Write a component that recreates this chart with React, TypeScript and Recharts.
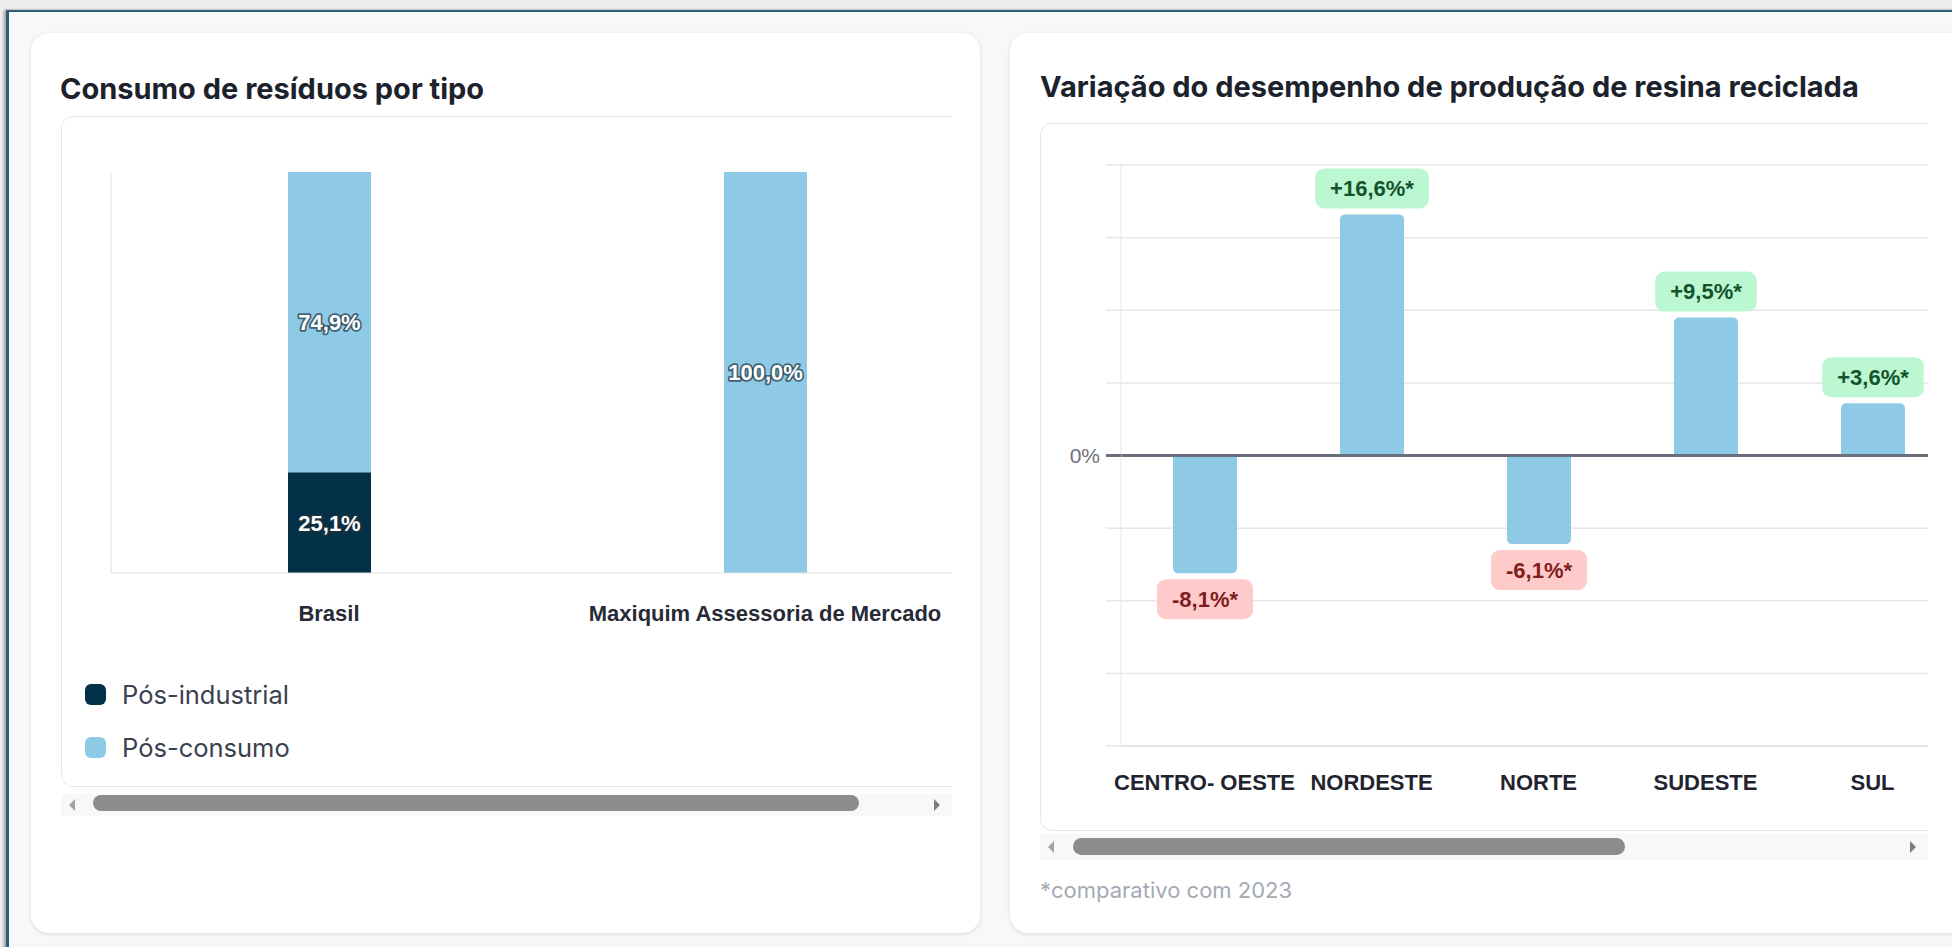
import { BarChart, Bar, XAxis, YAxis, CartesianGrid, ReferenceLine, LabelList, Legend } from "recharts"

// left chart: consumo de resíduos por tipo
const consumoCategorias = ["Brasil", "Maxiquim Assessoria de Mercado"]
const posIndustrial = [25.1, 0]
const posConsumo = [74.9, 100]
const legendOrder = ["Pós-industrial", "Pós-consumo"]

// right chart: variação por região (%)
const regioes = ["CENTRO- OESTE", "NORDESTE", "NORTE", "SUDESTE", "SUL"]
const variacao = [-8.1, 16.6, -6.1, 9.5, 3.6]
const variacaoTicks = [-20, -15, -10, -5, 0, 5, 10, 15, 20]

const DARK = "#023047"
const LIGHT = "#8ECAE6"
const UI_FONT = "Inter, 'Noto Sans', sans-serif"
const CHART_FONT = "'Liberation Sans', Arial, sans-serif"

const consumoData = consumoCategorias.map((name, i) => ({
  name,
  posIndustrial: posIndustrial[i],
  posConsumo: posConsumo[i],
}))

const variacaoData = regioes.map((name, i) => ({ name, valor: variacao[i] }))

const fmtPct = (v: number) => v.toFixed(1).replace(".", ",") + "%"
const fmtVar = (v: number) => (v > 0 ? "+" : "") + fmtPct(v) + "*"

// rough Arial bold advance widths, for sizing the badges
const boldWidths: Record<string, number> = { "+": 0.584, "-": 0.333, ",": 0.278, "%": 0.889, "*": 0.389 }
const textWidth = (s: string, size: number) => {
  let w = 0
  for (const c of s) w += boldWidths[c] ?? 0.556
  return w * size
}

function StackLabel(props: any) {
  const vb = props.viewBox ?? props
  const value = Number(props.value)
  if (!value) return null
  const cx = vb.x + vb.width / 2
  const cy = vb.y + vb.height / 2
  return (
    <text
      x={cx}
      y={cy}
      dy="0.36em"
      textAnchor="middle"
      fill="#ffffff"
      stroke="#1f323d"
      strokeOpacity={0.7}
      strokeWidth={3.5}
      strokeLinejoin="round"
      paintOrder="stroke"
      fontFamily={CHART_FONT}
      fontSize={22}
      fontWeight="bold"
    >
      {fmtPct(value)}
    </text>
  )
}

function Badge(props: any) {
  const vb = props.viewBox ?? props
  const value = Number(props.value)
  const top = Math.min(vb.y, vb.y + vb.height)
  const bottom = Math.max(vb.y, vb.y + vb.height)
  const cx = vb.x + vb.width / 2
  const label = fmtVar(value)
  const w = textWidth(label, 22) + 30
  const h = 40
  const positive = value >= 0
  const by = positive ? top - 6 - h : bottom + 6
  return (
    <g>
      <rect x={cx - w / 2} y={by} width={w} height={h} rx={9} fill={positive ? "#bbf7d0" : "#fecaca"} />
      <text
        x={cx}
        y={by + h / 2}
        dy="0.36em"
        textAnchor="middle"
        fill={positive ? "#14532d" : "#7f1d1d"}
        fontFamily={CHART_FONT}
        fontSize={22}
        fontWeight="bold"
      >
        {label}
      </text>
    </g>
  )
}

function ZeroTick(props: any) {
  const { x, y, payload } = props
  if (payload.value !== 0) return null
  return (
    <g>
      <line x1={x + 6} x2={x + 21} y1={y} y2={y} stroke="#696f7c" strokeWidth={3} />
      <text x={x} y={y} dy="0.36em" textAnchor="end" fill="#6f7177" fontFamily={CHART_FONT} fontSize={21}>
        0%
      </text>
    </g>
  )
}

function ConsumoLegend(props: any) {
  const items = [...(props.payload ?? [])].sort(
    (a: any, b: any) => legendOrder.indexOf(a.value) - legendOrder.indexOf(b.value)
  )
  return (
    <div style={{ fontFamily: UI_FONT }}>
      {items.map((item: any) => (
        <div key={item.value} style={{ display: "flex", alignItems: "center", height: 53 }}>
          <span style={{ width: 21, height: 21, borderRadius: 6, background: item.color, marginRight: 16 }} />
          <span style={{ fontSize: 25.5, color: "#3a4150" }}>{item.value}</span>
        </div>
      ))}
    </div>
  )
}

function FakeScrollbar({ left, top, width, height, thumbLeft, thumbWidth, thumbTop, thumbHeight }: any) {
  const mid = height / 2
  return (
    <div style={{ position: "absolute", left, top, width, height, background: "#f8f8f8" }}>
      <div
        style={{
          position: "absolute",
          left: 8,
          top: mid - 6,
          width: 0,
          height: 0,
          borderTop: "6px solid transparent",
          borderBottom: "6px solid transparent",
          borderRight: "6px solid #a3a3a3",
        }}
      />
      <div
        style={{
          position: "absolute",
          left: thumbLeft,
          top: thumbTop,
          width: thumbWidth,
          height: thumbHeight,
          borderRadius: thumbHeight / 2,
          background: "#8c8c8c",
        }}
      />
      <div
        style={{
          position: "absolute",
          right: 12,
          top: mid - 6,
          width: 0,
          height: 0,
          borderTop: "6px solid transparent",
          borderBottom: "6px solid transparent",
          borderLeft: "6px solid #7d7d7d",
        }}
      />
    </div>
  )
}

const cardStyle = {
  position: "absolute" as const,
  background: "#ffffff",
  borderRadius: 18,
  boxShadow: "0 1px 4px rgba(0,0,0,0.13)",
}

const titleStyle = {
  position: "absolute" as const,
  fontFamily: UI_FONT,
  fontWeight: 700,
  fontSize: 29,
  lineHeight: "35px",
  color: "#1b222c",
  whiteSpace: "nowrap" as const,
}

const boxStyle = {
  position: "absolute" as const,
  left: 0,
  top: 0,
  border: "1.5px solid #e5e7eb",
  borderRadius: 12,
  background: "#ffffff",
  boxSizing: "border-box" as const,
}

export default function App() {
  return (
    <div style={{ position: "fixed", left: 0, top: 0, width: 1952, height: 947, background: "#eeeeee", overflow: "hidden" }}>
      <div
        style={{
          position: "absolute",
          left: 6,
          top: 10,
          width: 1960,
          height: 950,
          background: "#f6f8fa",
          borderTop: "2px solid #2f5d78",
          borderLeft: "3px solid #2f5d78",
          boxShadow: "-2px 0 3px rgba(0,0,0,0.35)",
        }}
      />

      {/* left card */}
      <div style={{ ...cardStyle, left: 31, top: 33, width: 949, height: 900 }} />
      <div style={{ ...titleStyle, left: 60, top: 71 }}>Consumo de resíduos por tipo</div>
      <div style={{ position: "absolute", left: 61, top: 116, width: 891, height: 700, overflow: "hidden" }}>
        <div style={{ ...boxStyle, width: 960, height: 671 }} />
        <div style={{ position: "absolute", left: 0, top: 0 }}>
          <BarChart width={940} height={671} data={consumoData} margin={{ top: 56, right: 18, left: 0, bottom: 0 }}>
            <XAxis
              dataKey="name"
              height={214}
              interval={0}
              axisLine={{ stroke: "#e2e2e2" }}
              tickLine={false}
              tickSize={0}
              tickMargin={32}
              tick={{ fill: "#262b36", fontSize: 22, fontWeight: "bold", fontFamily: CHART_FONT }}
            />
            <YAxis width={50} domain={[0, 100]} tick={false} tickLine={false} axisLine={{ stroke: "#e2e2e2" }} />
            <Legend
              layout="vertical"
              align="center"
              verticalAlign="middle"
              content={<ConsumoLegend />}
              wrapperStyle={{ left: 24, top: 552, width: 340 }}
            />
            <Bar dataKey="posIndustrial" name="Pós-industrial" stackId="a" fill={DARK} barSize={83} isAnimationActive={false}>
              <LabelList dataKey="posIndustrial" content={<StackLabel />} />
            </Bar>
            <Bar dataKey="posConsumo" name="Pós-consumo" stackId="a" fill={LIGHT} barSize={83} isAnimationActive={false}>
              <LabelList dataKey="posConsumo" content={<StackLabel />} />
            </Bar>
          </BarChart>
        </div>
        <FakeScrollbar left={0} top={678} width={891} height={22} thumbLeft={32} thumbWidth={766} thumbTop={1} thumbHeight={16} />
      </div>

      {/* right card */}
      <div style={{ ...cardStyle, left: 1010, top: 33, width: 1000, height: 900 }} />
      <div style={{ ...titleStyle, left: 1040, top: 69 }}>Variação do desempenho de produção de resina reciclada</div>
      <div style={{ position: "absolute", left: 1040, top: 123, width: 888, height: 740, overflow: "hidden" }}>
        <div style={{ ...boxStyle, width: 920, height: 708 }} />
        <div style={{ position: "absolute", left: 0, top: 0 }}>
          <BarChart width={926} height={708} data={variacaoData} margin={{ top: 42, right: 10, left: 0, bottom: 0 }}>
            <CartesianGrid vertical={false} stroke="#e6e6e6" strokeWidth={1.5} />
            <XAxis
              dataKey="name"
              height={85}
              interval={0}
              axisLine={{ stroke: "#dcdcdc" }}
              tickLine={false}
              tickSize={0}
              tickMargin={28}
              tick={{ fill: "#1f2430", fontSize: 22, fontWeight: "bold", fontFamily: CHART_FONT }}
            />
            <YAxis
              width={81}
              domain={[-20, 20]}
              ticks={variacaoTicks}
              interval={0}
              axisLine={{ stroke: "#e6e6e6" }}
              tickLine={{ stroke: "#e6e6e6", strokeWidth: 1.5 }}
              tickSize={15}
              tickMargin={6}
              tick={<ZeroTick />}
            />
            <ReferenceLine y={0} stroke="#696f7c" strokeWidth={3} />
            <Bar dataKey="valor" fill={LIGHT} barSize={64} radius={[5, 5, 0, 0]} isAnimationActive={false}>
              <LabelList dataKey="valor" content={<Badge />} />
            </Bar>
          </BarChart>
        </div>
        <FakeScrollbar left={0} top={710} width={888} height={27} thumbLeft={33} thumbWidth={552} thumbTop={5} thumbHeight={17} />
      </div>
      <div
        style={{
          position: "absolute",
          left: 1040,
          top: 876,
          fontFamily: UI_FONT,
          fontSize: 22,
          lineHeight: "28px",
          color: "#a3aab5",
          whiteSpace: "nowrap",
        }}
      >
        *comparativo com 2023
      </div>
    </div>
  )
}
